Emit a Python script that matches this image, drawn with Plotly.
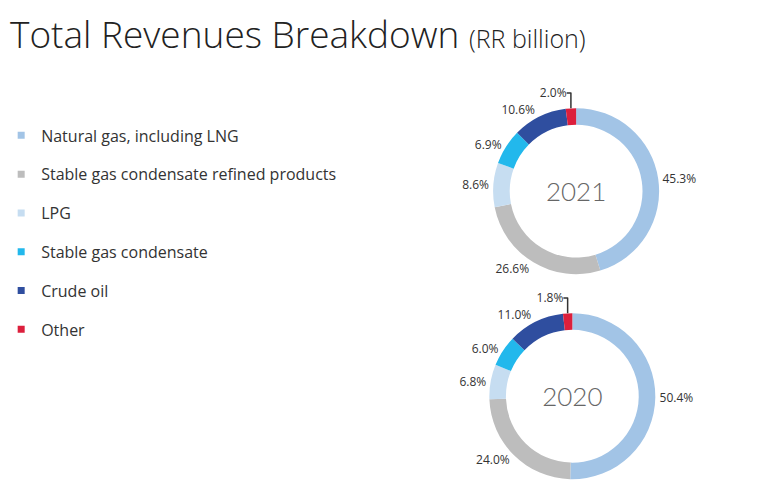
import plotly.graph_objects as go

categories = ["Natural gas, including LNG", "Stable gas condensate refined products", "LPG",
              "Stable gas condensate", "Crude oil", "Other"]
share_2021 = [45.3, 26.6, 8.6, 6.9, 10.6, 2.0]
share_2020 = [50.4, 24.0, 6.8, 6.0, 11.0, 1.8]
years = ["2021", "2020"]
colors = ["#a2c4e6", "#bdbdbd", "#c6ddf1", "#22b8ec", "#2f4e9f", "#dc1f3c"]

FONT = "Open Sans"
fig = go.Figure()

domains = [dict(x=[0.640, 0.859], y=[0.460, 0.797]), dict(x=[0.635, 0.854], y=[0.044, 0.381])]
for yr, vals, dom in zip(years, [share_2021, share_2020], domains):
    fig.add_trace(go.Pie(
        labels=categories, values=vals, hole=0.8, sort=False, direction="clockwise",
        rotation=0, domain=dom, showlegend=False,
        marker=dict(colors=colors, line=dict(width=0)),
        textposition="outside", texttemplate="%{value:.1f}%",
        textfont=dict(family=FONT, size=12, color="#333333"),
        title=dict(text=yr, position="middle center",
                   font=dict(family="Lato", size=26, color="#666666", weight=300)),
    ))

for i, (cat, col) in enumerate(zip(categories, colors)):
    fig.add_trace(go.Scatter(
        x=[None], y=[None], mode="markers", name=cat, legendgroup=f"g{i}",
        marker=dict(symbol="square", size=7, color=col),
    ))

fig.update_layout(
    width=758, height=493, margin=dict(l=0, r=0, t=0, b=0, autoexpand=False),
    paper_bgcolor="white", plot_bgcolor="white",
    xaxis=dict(visible=False), yaxis=dict(visible=False),
    annotations=[dict(
        text="Total Revenues Breakdown <span style='font-size:25px'>(RR billion)</span>",
        xref="paper", yref="paper", x=0.0, xanchor="left", y=1.005, yanchor="top",
        showarrow=False, font=dict(family=FONT, size=37, color="#222222", weight=300))],
    legend=dict(x=-0.009, xanchor="left", y=0.776, yanchor="top",
                font=dict(family=FONT, size=16, color="#333333"),
                tracegroupgap=15, bgcolor="rgba(0,0,0,0)", itemclick=False),
)

fig.write_html("out.html")
